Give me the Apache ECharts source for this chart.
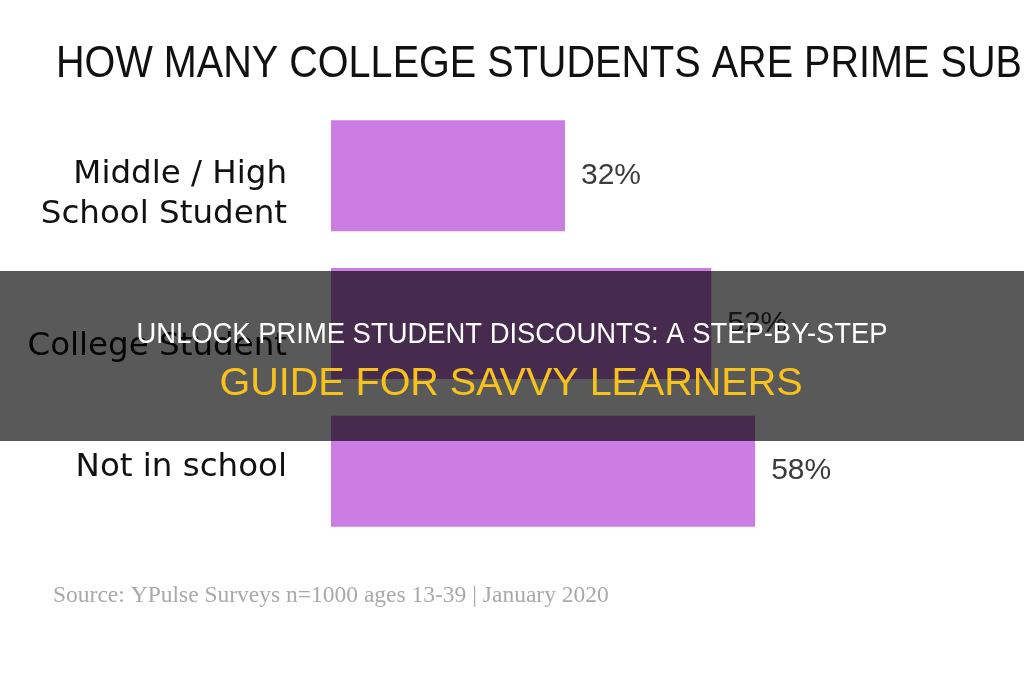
<!DOCTYPE html>
<html>
<head>
<meta charset="utf-8">
<script src="https://cdn.jsdelivr.net/npm/echarts@6/dist/echarts.min.js"></script>
<style>
  html, body { margin: 0; padding: 0; background: #fff; }
  #chart { width: 1024px; height: 680px; }
</style>
</head>
<body>
<div id="chart"></div>
<script>
const categories = ['Middle / High\nSchool Student', 'College Student', 'Not in school']
const shares = [32, 52, 58]

const chart = echarts.init(document.getElementById('chart'))
chart.setOption({
  backgroundColor: '#ffffff',
  animation: false,
  grid: {
    left: 331,
    right: 108,
    top: 102,
    bottom: 135
  },
  xAxis: {
    type: 'value',
    min: 0,
    max: 80,
    show: false
  },
  yAxis: {
    type: 'category',
    inverse: true,
    data: categories,
    axisLine: { show: false },
    axisTick: { show: false },
    axisLabel: {
      margin: 44,
      fontFamily: 'DejaVu Sans',
      fontSize: 32.5,
      lineHeight: 40,
      color: '#111',
      align: 'right',
      // the labels in the source sit a bit off the bar centres,
      // so push them with an empty spacer line
      formatter: (v, i) => {
        if (i === 0) return '{g37| }\n' + v
        if (i === 1) return '{g46| }\n' + v
        return v + '\n{g8| }'
      },
      rich: {
        g37: { fontSize: 1, lineHeight: 37 },
        g46: { fontSize: 1, lineHeight: 46 },
        g8: { fontSize: 1, lineHeight: 8 }
      }
    }
  },
  series: [{
    type: 'bar',
    data: shares,
    barWidth: 111,
    itemStyle: { color: '#cc7de3' },
    label: {
      show: true,
      position: 'right',
      distance: 16,
      formatter: '{c}%',
      fontFamily: 'Liberation Sans',
      fontSize: 30,
      color: '#3c3c3c'
    }
  }],
  graphic: [
    {
      type: 'text',
      z: 10,
      x: 56,
      y: 65,
      scaleX: 0.88,
      style: {
        text: 'HOW MANY COLLEGE STUDENTS ARE PRIME SUBSCRIBERS?',
        fill: '#111',
        fontFamily: 'Liberation Sans',
        fontSize: 45,
        verticalAlign: 'middle'
      }
    },
    {
      type: 'rect',
      z: 100,
      shape: { x: 0, y: 271, width: 1024, height: 170 },
      style: { fill: 'rgba(0,0,0,0.65)' }
    },
    {
      type: 'text',
      z: 101,
      x: 512,
      y: 335,
      scaleX: 0.945,
      style: {
        text: 'UNLOCK PRIME STUDENT DISCOUNTS: A STEP-BY-STEP',
        fill: '#ffffff',
        fontFamily: 'Liberation Sans',
        fontSize: 29,
        align: 'center',
        verticalAlign: 'middle'
      }
    },
    {
      type: 'text',
      z: 101,
      x: 511,
      y: 384,
      scaleX: 1.026,
      style: {
        text: 'GUIDE FOR SAVVY LEARNERS',
        fill: '#f8c21c',
        fontFamily: 'Liberation Sans',
        fontSize: 38.5,
        align: 'center',
        verticalAlign: 'middle'
      }
    },
    {
      type: 'text',
      z: 10,
      x: 53,
      y: 596,
      style: {
        text: 'Source: YPulse Surveys n=1000 ages 13-39 | January 2020',
        fill: '#a9a9a9',
        fontFamily: 'Liberation Serif',
        fontSize: 23.5,
        verticalAlign: 'middle'
      }
    }
  ]
})
</script>
</body>
</html>
